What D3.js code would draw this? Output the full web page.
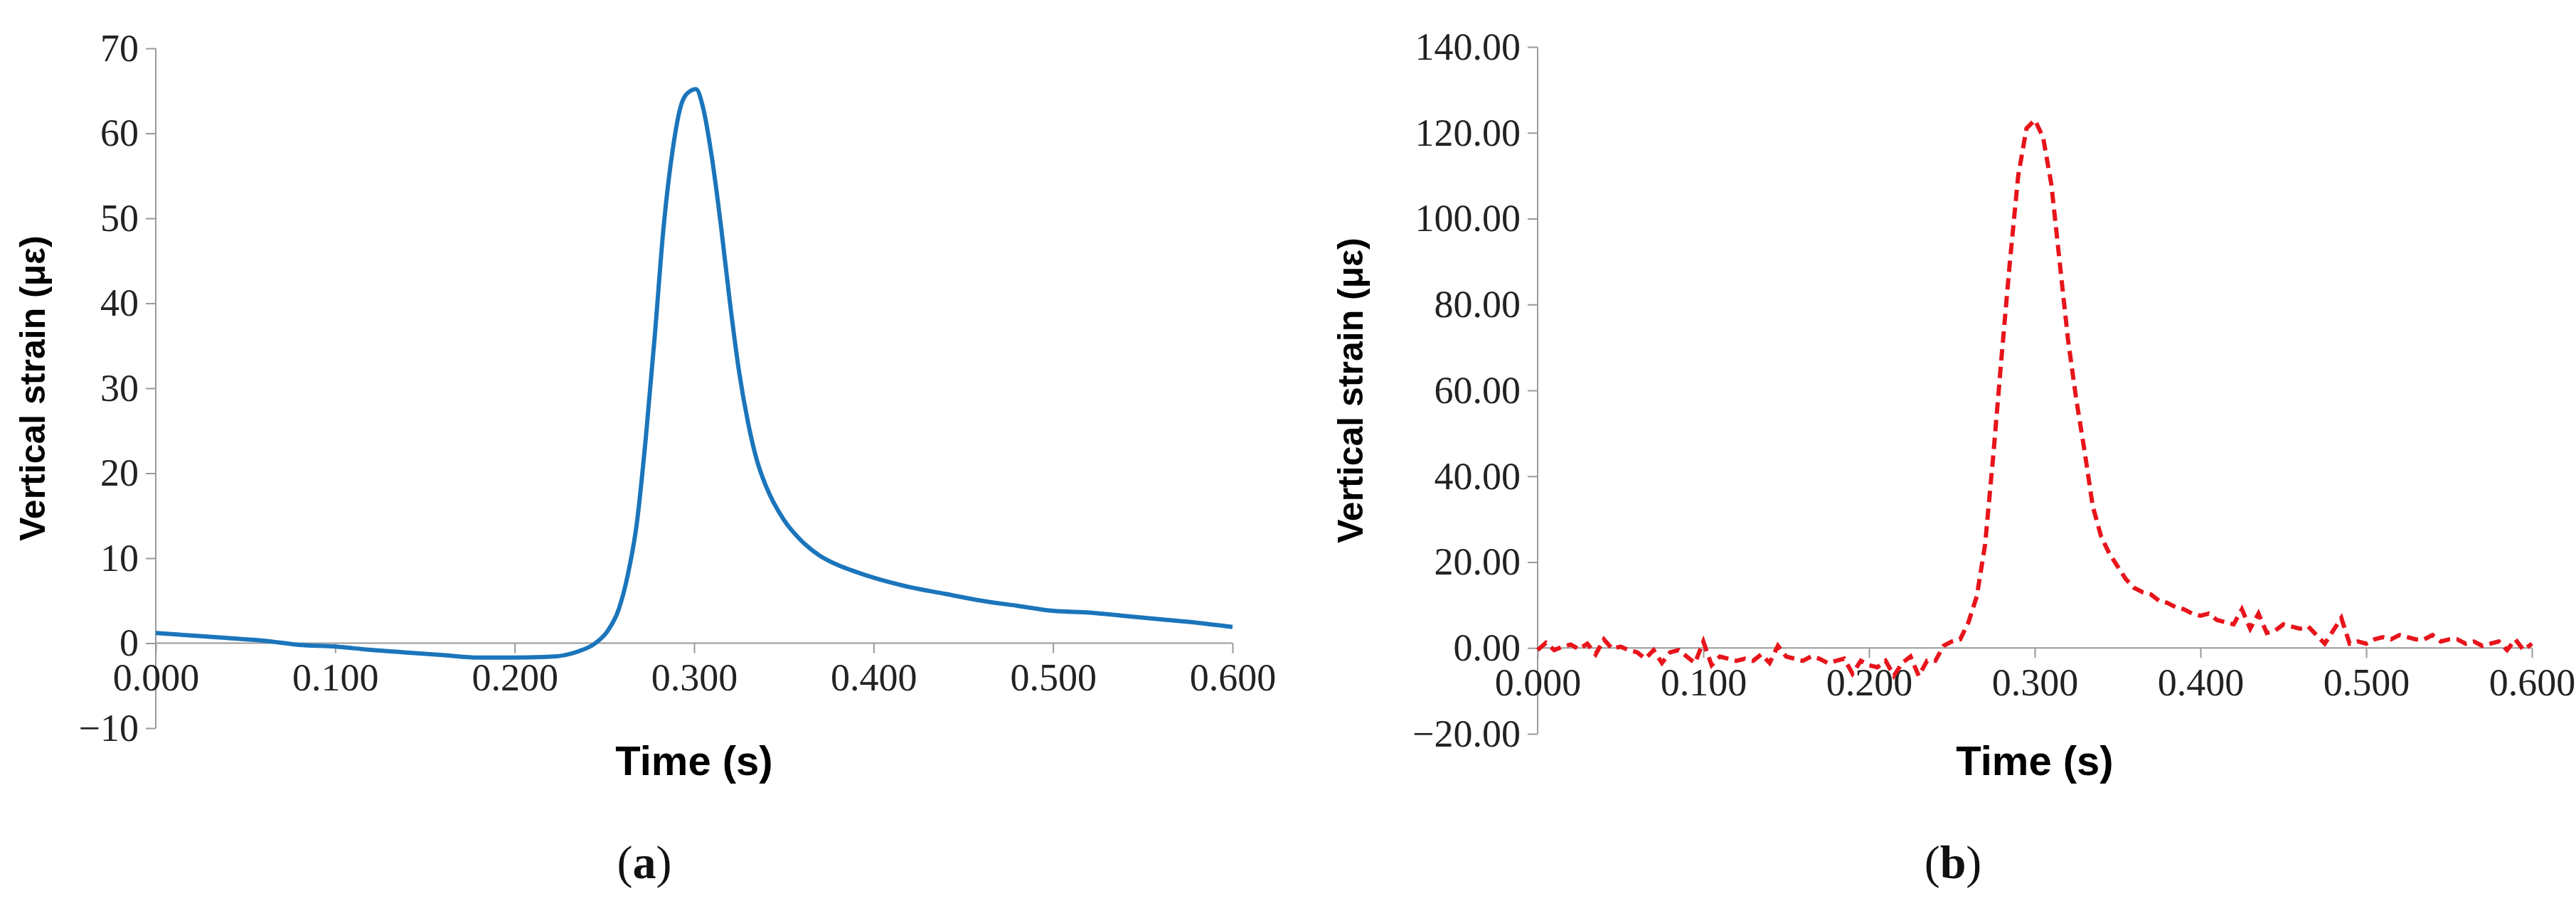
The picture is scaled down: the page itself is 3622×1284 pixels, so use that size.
<!DOCTYPE html>
<html>
<head>
<meta charset="utf-8">
<script src="https://cdn.jsdelivr.net/npm/d3@7"></script>
<style>
body { margin: 0; background: #fff; }
text { font-family: "Liberation Serif", "DejaVu Serif", serif; }
</style>
</head>
<body>
<svg id="chart" width="3622" height="1284"></svg>
<script>
// panel (a) - measured strain
var timeA = [0, 0.02, 0.04, 0.06, 0.08, 0.1, 0.12, 0.14, 0.16, 0.18, 0.2, 0.22, 0.235, 0.245, 0.252,
    0.258, 0.263, 0.268, 0.273, 0.278, 0.283, 0.288, 0.293, 0.298, 0.301, 0.305, 0.31, 0.315, 0.32,
    0.325, 0.33, 0.335, 0.34, 0.35, 0.36, 0.37, 0.38, 0.39, 0.4, 0.42, 0.44, 0.46, 0.48, 0.5, 0.52,
    0.54, 0.56, 0.58, 0.6];
var strainA = [1.2, 0.9, 0.6, 0.3, -0.2, -0.4, -0.8, -1.1, -1.4, -1.7, -1.7, -1.6, -1.0, 0, 1.5,
    4, 8, 14, 24, 36, 49, 58, 63.5, 65, 65.2, 63, 57, 49, 40,
    32, 26, 21.5, 18.5, 14.5, 12, 10.3, 9.2, 8.4, 7.7, 6.6, 5.8, 5.0, 4.4, 3.8, 3.6,
    3.2, 2.8, 2.4, 1.9];

// panel (b) - computed strain
var timeB = [0, 0.005, 0.01, 0.015, 0.02, 0.025, 0.03, 0.035, 0.04, 0.045, 0.05, 0.055, 0.06, 0.065,
    0.07, 0.075, 0.08, 0.085, 0.09, 0.095, 0.1, 0.105, 0.11, 0.115, 0.12, 0.125, 0.13, 0.135, 0.14,
    0.145, 0.15, 0.155, 0.16, 0.165, 0.17, 0.175, 0.18, 0.185, 0.19, 0.195, 0.2, 0.205, 0.21, 0.215,
    0.22, 0.225, 0.23, 0.235, 0.24, 0.245, 0.25, 0.255, 0.26, 0.265, 0.27, 0.275, 0.28, 0.285, 0.29,
    0.295, 0.3, 0.305, 0.31, 0.315, 0.32, 0.325, 0.33, 0.335, 0.34, 0.345, 0.35, 0.355, 0.36, 0.365,
    0.37, 0.375, 0.38, 0.385, 0.39, 0.395, 0.4, 0.405, 0.41, 0.415, 0.42, 0.425, 0.43, 0.435, 0.44,
    0.445, 0.45, 0.455, 0.46, 0.465, 0.47, 0.475, 0.48, 0.485, 0.49, 0.495, 0.5, 0.505, 0.51, 0.515,
    0.52, 0.525, 0.53, 0.535, 0.54, 0.545, 0.55, 0.555, 0.56, 0.565, 0.57, 0.575, 0.58, 0.585, 0.59,
    0.595, 0.6];
var strainB = [-0.5, 1.2, -0.5, 0.3, 0.8, -0.3, 1.0, -1.5, 2.0, -0.2, 0.3, -0.5, -1.0, -2.5,
    -0.5, -3.5, -1.0, -0.5, -2.0, -3.5, 1.5, -4.0, -2.0, -2.5, -3.0, -2.5, -3.0, -1.5, -3.5,
    0.5, -2.0, -2.5, -3.0, -2.0, -2.5, -3.5, -3.0, -2.5, -6.0, -3.0, -4.0, -4.5, -3.0, -6.5,
    -3.5, -2.0, -6.5, -3.0, -3.0, 0.5, 1.5, 2.0, 6.0, 12.0, 24.0, 45.0, 68.0, 90.0, 110.0,
    121.0, 123.0, 119.0, 108.0, 90.0, 72.0, 58.0, 46.0, 33.0, 26.0, 22.0, 19.0, 16.0, 14.0, 13.0,
    12.5, 11.0, 10.5, 9.5, 9.0, 8.0, 7.5, 8.0, 6.5, 6.0, 5.5, 9.0, 4.5, 8.0, 3.5,
    4.0, 5.5, 5.0, 4.5, 5.0, 3.0, 1.0, 4.0, 7.0, 1.0, 1.5, 1.0, 2.0, 2.5, 2.0,
    3.0, 2.5, 2.0, 2.0, 3.0, 1.5, 2.0, 2.0, 1.0, 1.5, 0.5, 1.0, 1.5, -0.5, 2.0,
    -0.5, 1.0];

var xTicks = [0, 0.1, 0.2, 0.3, 0.4, 0.5, 0.6];
var yTicksA = [-10, 0, 10, 20, 30, 40, 50, 60, 70];
var yTicksB = [-20, 0, 20, 40, 60, 80, 100, 120, 140];

var svg = d3.select('#chart');

function drawPanel(opt){
    var x = d3.scaleLinear().domain([0, 0.6]).range([opt.left, opt.right]);
    var y = d3.scaleLinear().domain([opt.yTicks[0], opt.yTicks[opt.yTicks.length - 1]])
        .range([opt.bottom, opt.top]);
    var g = svg.append('g');

    // y axis
    var yAxis = g.append('g')
        .attr('transform', 'translate(' + opt.left + ',0)')
        .call(d3.axisLeft(y).tickValues(opt.yTicks).tickSize(14).tickPadding(10)
            .tickFormat(function(d){ return d < 0 ? '\u2212' + d3.format(opt.fmt)(-d) : d3.format(opt.fmt)(d); }));
    yAxis.selectAll('text').attr('font-size', 54).attr('fill', '#222')
        .style('font-family', '"Liberation Serif", serif');
    yAxis.selectAll('line, path').attr('stroke', '#999').attr('stroke-width', 2);
    yAxis.select('path').attr('d', 'M0,' + opt.bottom + 'V' + opt.top);

    // x axis on the zero line
    var xAxis = g.append('g')
        .attr('transform', 'translate(0,' + y(0) + ')')
        .call(d3.axisBottom(x).tickValues(xTicks).tickSize(14).tickPadding(14).tickFormat(d3.format('.3f')));
    xAxis.selectAll('text').attr('font-size', 54).attr('fill', '#222')
        .style('font-family', '"Liberation Serif", serif');
    xAxis.selectAll('line, path').attr('stroke', '#999').attr('stroke-width', 2);
    xAxis.select('path').attr('d', 'M' + opt.left + ',0H' + opt.right);

    var line = d3.line()
        .x(function(d){ return x(d[0]); })
        .y(function(d){ return y(d[1]); })
        .curve(opt.curve);
    g.append('path')
        .datum(d3.zip(opt.times, opt.values))
        .attr('d', line)
        .attr('fill', 'none')
        .attr('stroke', opt.color)
        .attr('stroke-width', opt.width)
        .attr('stroke-dasharray', opt.dash);

    g.append('text')
        .attr('transform', 'translate(' + opt.ylabelX + ',' + ((opt.top + opt.bottom) / 2) + ') rotate(-90)')
        .attr('text-anchor', 'middle')
        .attr('dominant-baseline', 'central')
        .style('font-family', '"Liberation Sans", Arial, sans-serif')
        .attr('font-weight', 'bold')
        .attr('font-size', 50)
        .text('Vertical strain (με)');

    g.append('text')
        .attr('x', (opt.left + opt.right) / 2)
        .attr('y', 1090)
        .attr('text-anchor', 'middle')
        .style('font-family', '"Liberation Sans Narrow", "Liberation Sans", Arial, sans-serif')
        .attr('font-weight', 'bold')
        .attr('font-size', 58)
        .text('Time (s)');

    var cap = g.append('text')
        .attr('x', opt.capX)
        .attr('y', 1235)
        .attr('text-anchor', 'middle')
        .attr('font-size', 66)
        .attr('fill', '#111');
    cap.append('tspan').text('(');
    cap.append('tspan').attr('font-weight', 'bold').text(opt.cap);
    cap.append('tspan').text(')');
}

drawPanel({
    left: 219, right: 1733, top: 68, bottom: 1024,
    yTicks: yTicksA, fmt: 'd',
    times: timeA, values: strainA,
    color: '#1b75bb', width: 6, dash: null,
    curve: d3.curveMonotoneX,
    ylabelX: 46, capX: 906, cap: 'a'
});

drawPanel({
    left: 2162, right: 3560, top: 66, bottom: 1032,
    yTicks: yTicksB, fmt: '.2f',
    times: timeB, values: strainB,
    color: '#e8141b', width: 6, dash: '16,9',
    curve: d3.curveLinear,
    ylabelX: 1899, capX: 2746, cap: 'b'
});
</script>
</body>
</html>
